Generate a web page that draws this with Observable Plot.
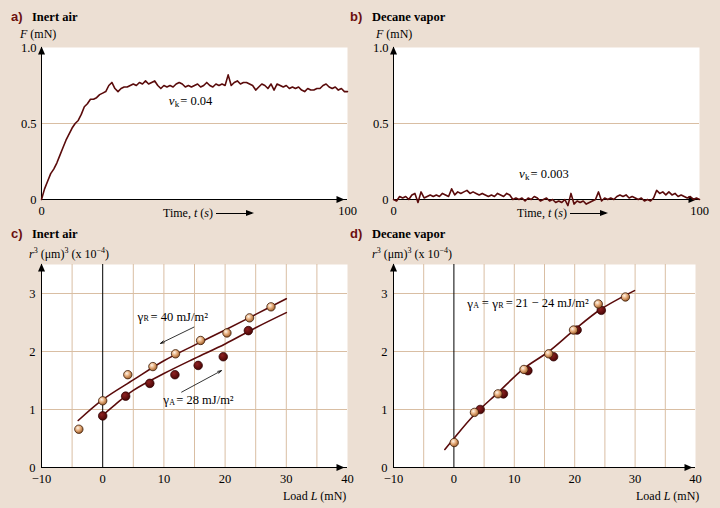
<!DOCTYPE html>
<html><head><meta charset="utf-8">
<script src="https://cdn.jsdelivr.net/npm/d3@7"></script>
<script src="https://cdn.jsdelivr.net/npm/@observablehq/plot@0.6"></script>
<style>
body{margin:0;background:#ecdfd3;}
#fig{position:relative;width:720px;height:508px;background:#ecdfd3;font-family:"Liberation Serif",serif;overflow:hidden}
#fig svg.p{position:absolute;overflow:visible}
.t{position:absolute;white-space:nowrap;font-size:12px;color:#000;line-height:1}
.lab{font-family:"Liberation Sans",Arial,sans-serif;font-weight:bold;color:#6b1010;font-size:13px}
.ttl{font-weight:bold;font-size:12.5px}
sup{font-size:8px;vertical-align:5px;line-height:0}
.arr{display:inline-block;width:36px;height:1px;background:#000;vertical-align:3px;margin-left:3px;position:relative}
.arr::after{content:"";position:absolute;right:-2px;top:-3px;border-left:8px solid #000;border-top:3.5px solid transparent;border-bottom:3.5px solid transparent}
</style></head><body>
<svg width="0" height="0" style="position:absolute"><defs>
<radialGradient id="gTan" cx="0.38" cy="0.35" r="0.7"><stop offset="0" stop-color="#fff6ea"/><stop offset="0.45" stop-color="#e6ad7c"/><stop offset="1" stop-color="#93531f"/></radialGradient>
<radialGradient id="gDark" cx="0.38" cy="0.35" r="0.7"><stop offset="0" stop-color="#8e2222"/><stop offset="1" stop-color="#450303"/></radialGradient>
</defs></svg>
<div id="fig">
<div class="t lab" style="left:11px;top:10px">a)</div>
<div class="t ttl" style="left:32px;top:10.5px">Inert air</div>
<div class="t" style="left:20px;top:28px"><i>F</i> (mN)</div>
<div class="t" style="left:163px;top:207px">Time, <i>t</i> (<i>s</i>)<span class="arr"></span></div>
<div class="t lab" style="left:350px;top:10px">b)</div>
<div class="t ttl" style="left:372px;top:10.5px">Decane vapor</div>
<div class="t" style="left:376px;top:28px"><i>F</i> (mN)</div>
<div class="t" style="left:517px;top:207px">Time, <i>t</i> (<i>s</i>)<span class="arr"></span></div>
<div class="t lab" style="left:11px;top:227px">c)</div>
<div class="t ttl" style="left:32px;top:227.5px">Inert air</div>
<div class="t" style="left:29px;top:248px"><i>r</i><sup>3</sup> (μm)<sup>3</sup> (x 10<sup>−4</sup>)</div>
<div class="t" style="left:283px;top:490px">Load <i>L</i> (mN)</div>
<div class="t lab" style="left:350px;top:227px">d)</div>
<div class="t ttl" style="left:372px;top:227.5px">Decane vapor</div>
<div class="t" style="left:372px;top:248px"><i>r</i><sup>3</sup> (μm)<sup>3</sup> (x 10<sup>−4</sup>)</div>
<div class="t" style="left:636px;top:490px">Load <i>L</i> (mN)</div>
</div>
<script>
// ---------- data ----------
// a) friction force vs time, inert air (t = 0..100 s, 1 s apart)
const forceAir = [
 0,0.07,0.12,0.17,0.2,0.24,0.29,0.34,0.39,0.43,
 0.47,0.5,0.52,0.56,0.61,0.63,0.66,0.66,0.67,0.69,
 0.7,0.71,0.75,0.77,0.73,0.71,0.73,0.74,0.74,0.75,
 0.76,0.75,0.77,0.76,0.78,0.76,0.77,0.78,0.75,0.73,
 0.75,0.74,0.75,0.74,0.76,0.77,0.76,0.74,0.75,0.74,
 0.75,0.76,0.74,0.75,0.77,0.75,0.74,0.76,0.75,0.76,
 0.75,0.82,0.75,0.77,0.78,0.76,0.77,0.77,0.76,0.75,
 0.72,0.74,0.76,0.75,0.73,0.76,0.72,0.76,0.75,0.74,
 0.75,0.73,0.74,0.73,0.74,0.72,0.71,0.73,0.72,0.72,
 0.73,0.73,0.75,0.76,0.74,0.73,0.74,0.72,0.73,0.71,
 0.71];
// b) friction force vs time, decane vapor
const forceDecane = [
 0,-0.01,0.02,0.01,0.02,0,0.03,0.04,-0.02,0.05,
 0.01,0.02,0.03,0.02,0.03,0.02,0.04,0.03,0.02,0.07,
 0.03,0.05,0.04,0.05,0.06,0.04,0.05,0.04,0.03,0.04,
 0.03,0.02,0.03,0.02,0.04,0.03,0.02,0.04,0.03,0,
 0.01,0,0.01,-0.01,0.01,0,0.02,0.01,-0.01,0,
 0.01,-0.01,0,-0.02,-0.01,-0.02,0,-0.04,0.04,-0.03,
 -0.01,-0.02,-0.01,-0.03,-0.02,-0.01,0,0.05,-0.01,0.01,
 0,0.01,0,0.02,0.03,0.02,0.03,0.01,0.02,0.01,
 0,0.01,-0.01,0,-0.01,0.01,0.06,0.04,0.05,0.03,
 0.05,0.03,0.04,0.02,0.03,0.02,0.01,0.02,0,0.01,
 0];
const timeTicks = [0, 100];
const forceTicks = [0, 0.5, 1];

// c) inert air, r^3 vs load
const airRecL = [-3.9, 0, 4.1, 8.2, 11.9, 16.0, 20.3, 24.0, 27.5];
const airRecR = [0.66, 1.15, 1.6, 1.74, 1.96, 2.19, 2.32, 2.58, 2.77];
const airAdvL = [0, 3.75, 7.7, 11.8, 15.6, 19.7, 23.8];
const airAdvR = [0.89, 1.23, 1.45, 1.6, 1.76, 1.91, 2.36];
const airRecFitL = [-4, 0, 5, 10, 15, 20, 25, 30];
const airRecFitR = [0.81, 1.17, 1.51, 1.84, 2.11, 2.37, 2.64, 2.91];
const airAdvFitL = [0, 2, 5, 10, 15, 20, 25, 30];
const airAdvFitR = [0.9, 1.08, 1.33, 1.62, 1.88, 2.13, 2.41, 2.67];

// d) decane vapor
const decRecL = [0.05, 3.4, 7.3, 11.6, 15.7, 19.8, 23.9, 28.4];
const decRecR = [0.43, 0.95, 1.27, 1.69, 1.96, 2.37, 2.82, 2.94];
const decAdvL = [4.35, 8.2, 12.25, 16.5, 20.4, 24.4];
const decAdvR = [1.0, 1.27, 1.67, 1.91, 2.37, 2.71];
const decFitL = [-1.5, 0, 3.3, 7.4, 11.5, 15.7, 19.8, 24.2, 29.9];
const decFitR = [0.31, 0.5, 0.9, 1.3, 1.7, 2.0, 2.36, 2.72, 3.05];

const loadTicks = [-10, 0, 10, 20, 30, 40];
const r3Ticks = [0, 1, 2, 3];
const loadGrid = [-5, 5, 10, 15, 20, 25, 30, 35];
const r3Grid = [1, 2, 3];

// annotations (data coordinates)
const nuAirPos = [41.6, 0.65], nuDecPos = [41, 0.17];
const gRPos = [5.7, 2.6], gAPos = [9.9, 1.16], gDPos = [2.2, 2.83];
const arrX1 = [14.9, 12.9], arrY1 = [2.42, 1.3], arrX2 = [9.45, 19.4], arrY2 = [2.14, 1.67];

// ---------- styles ----------
const MAROON = "#5a0b0b", GRID = "#d9bea3", TAN = "#d9a06a", DARK = "#5e0c0c";
const FONT = "Liberation Serif";
const arrowRight = {draw(c){c.moveTo(0,0);c.lineTo(-8,-3.5);c.lineTo(-8,3.5);c.closePath();}};
const arrowUp = {draw(c){c.moveTo(0,0);c.lineTo(-3.5,8);c.lineTo(3.5,8);c.closePath();}};

function comp(pos, parts) {
  return parts.map(p => Plot.text([{x: pos[0], y: pos[1]}], {
    x: "x", y: "y", text: () => p.t, dx: p.dx, dy: p.dy || 0, fontSize: p.fs || 12.5,
    fontStyle: p.it ? "italic" : "normal", fontFamily: FONT, textAnchor: "start",
    lineAnchor: "middle", fill: "black"
  }));
}

function axes(xd, yd) {
  return [
    Plot.ruleX([xd[0]], {stroke: "black", strokeWidth: 1}),
    Plot.ruleY([0], {stroke: "black", strokeWidth: 1}),
    Plot.dot([0], {x: () => xd[1], y: () => 0, symbol: arrowRight, fill: "black", stroke: "none", dx: -3}),
    Plot.dot([0], {x: () => xd[0], y: () => yd[1], symbol: arrowUp, fill: "black", stroke: "none", dy: -1})
  ];
}

function make(opts, left, top) {
  const svg = Plot.plot(Object.assign({
    style: {background: "transparent", fontFamily: FONT, fontSize: "12.5px", color: "black", overflow: "visible"}
  }, opts));
  svg.classList.add("p");
  svg.style.left = left + "px";
  svg.style.top = top + "px";
  svg.querySelectorAll(`g[fill="${TAN}"]`).forEach(g => g.setAttribute("fill", "url(#gTan)"));
  svg.querySelectorAll(`g[fill="${DARK}"]`).forEach(g => g.setAttribute("fill", "url(#gDark)"));
  document.getElementById("fig").appendChild(svg);
}

const fmtF = d => d === 0 ? "0" : d.toFixed(1);

function timePanel(series, nuPos, nuText, left) {
  const xd = [0, 100], yd = [0, 1];
  make({
    width: 360, height: 225, marginLeft: 41, marginRight: 13, marginTop: 47, marginBottom: 26,
    x: {domain: xd, ticks: timeTicks, tickSize: 0, tickPadding: 7, label: null},
    y: {domain: yd, ticks: forceTicks, tickSize: 0, tickPadding: 5, label: null, tickFormat: fmtF},
    marks: [
      Plot.frame({fill: "white", stroke: "none"}),
      Plot.ruleY([0.5], {stroke: GRID, strokeWidth: 1}),
      ...axes(xd, yd),
      Plot.line(series, {x: (d, i) => i, y: d => d, stroke: MAROON, strokeWidth: 1.6}),
      ...comp(nuPos, [
        {t: "ν", dx: 0, fs: 13, it: true},
        {t: "k", dx: 6, dy: 3, fs: 9},
        {t: "= " + nuText, dx: 11.5}
      ])
    ]
  }, left, 0);
}

timePanel(forceAir, nuAirPos, "0.04", 0);
timePanel(forceDecane, nuDecPos, "0.003", 352);

function loadPanel(left, marginRight, marks) {
  const xd = [-10, 40], yd = [0, 3.5];
  make({
    width: 360, height: 283, marginLeft: 41, marginRight, marginTop: 39, marginBottom: 41,
    x: {domain: xd, ticks: loadTicks, tickSize: 0, tickPadding: 7, label: null},
    y: {domain: yd, ticks: r3Ticks, tickSize: 0, tickPadding: 6, label: null, tickFormat: d => String(d)},
    marks: [
      Plot.frame({fill: "white", stroke: "none"}),
      Plot.ruleX(loadGrid, {stroke: GRID, strokeWidth: 1}),
      Plot.ruleY(r3Grid, {stroke: GRID, strokeWidth: 1}),
      Plot.ruleX([0], {stroke: "black", strokeWidth: 1}),
      ...axes(xd, yd),
      ...marks
    ]
  }, left, 225);
}

const zip = (a, b) => a.map((v, i) => ({x: v, y: b[i]}));

loadPanel(0, 13, [
  Plot.line(zip(airRecFitL, airRecFitR), {x: "x", y: "y", stroke: MAROON, strokeWidth: 1.6, curve: "catmull-rom"}),
  Plot.line(zip(airAdvFitL, airAdvFitR), {x: "x", y: "y", stroke: MAROON, strokeWidth: 1.6, curve: "catmull-rom"}),
  Plot.dot(zip(airAdvL, airAdvR), {x: "x", y: "y", r: 4.3, fill: DARK, stroke: "#2a0000", strokeWidth: 0.7}),
  Plot.dot(zip(airRecL, airRecR), {x: "x", y: "y", r: 4.2, fill: TAN, stroke: "#3a1a08", strokeWidth: 0.8}),
  Plot.arrow(arrX1.map((v, i) => ({x1: v, y1: arrY1[i], x2: arrX2[i], y2: arrY2[i]})),
    {x1: "x1", y1: "y1", x2: "x2", y2: "y2", stroke: "black", strokeWidth: 0.8, headLength: 7, headAngle: 35}),
  ...comp(gRPos, [
    {t: "γ", dx: 0, fs: 13},
    {t: "R", dx: 6, dy: 2, fs: 8},
    {t: "= 40 mJ/m²", dx: 13}
  ]),
  ...comp(gAPos, [
    {t: "γ", dx: 0, fs: 13},
    {t: "A", dx: 6, dy: 2, fs: 8},
    {t: "= 28 mJ/m²", dx: 13}
  ])
]);

loadPanel(352, 17, [
  Plot.line(zip(decFitL, decFitR), {x: "x", y: "y", stroke: MAROON, strokeWidth: 1.6, curve: "catmull-rom"}),
  Plot.dot(zip(decAdvL, decAdvR), {x: "x", y: "y", r: 4.3, fill: DARK, stroke: "#2a0000", strokeWidth: 0.7}),
  Plot.dot(zip(decRecL, decRecR), {x: "x", y: "y", r: 4.2, fill: TAN, stroke: "#3a1a08", strokeWidth: 0.8}),
  ...comp(gDPos, [
    {t: "γ", dx: 0, fs: 13},
    {t: "A", dx: 6, dy: 2, fs: 8},
    {t: "=", dx: 14.5},
    {t: "γ", dx: 25, fs: 13},
    {t: "R", dx: 31, dy: 2, fs: 8},
    {t: "= 21 − 24 mJ/m²", dx: 38.5}
  ])
]);
</script>
</body></html>
